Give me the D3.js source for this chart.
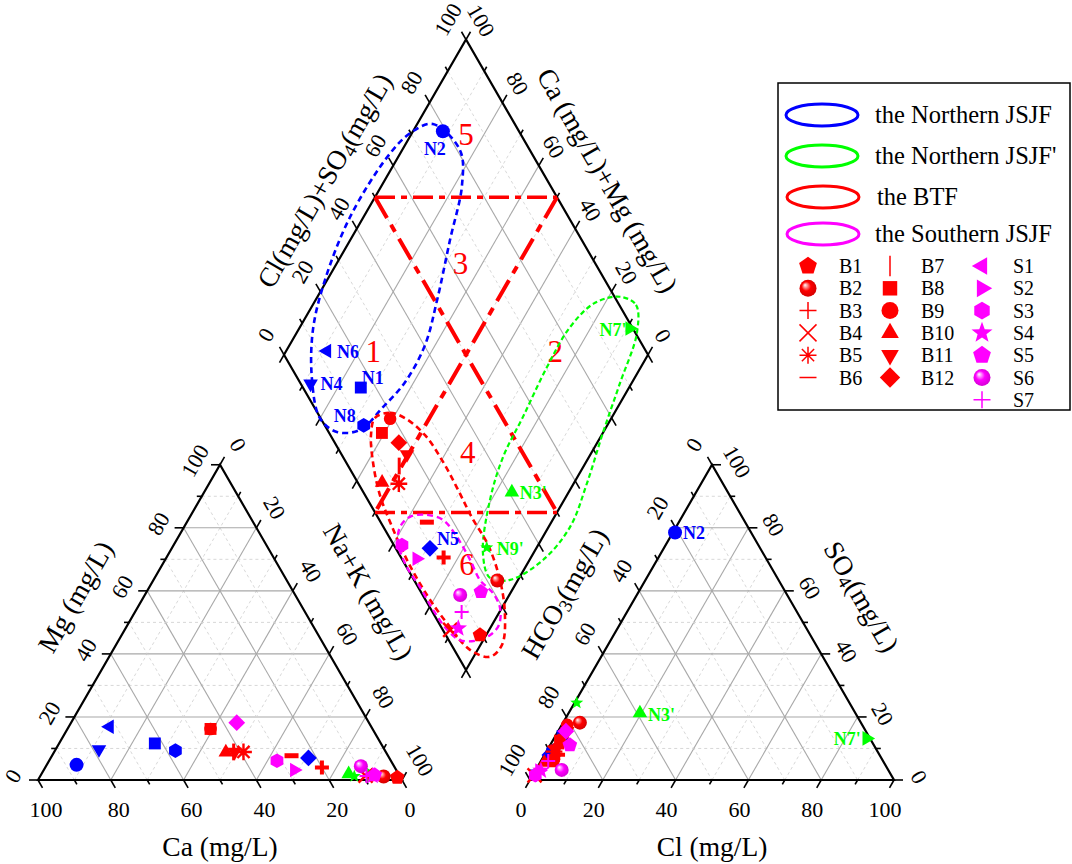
<!DOCTYPE html>
<html>
<head>
<meta charset="utf-8">
<script src="https://cdn.jsdelivr.net/npm/d3@7"></script>
<style>
  body { margin: 0; background: #fff; }
  text { font-family: "Times New Roman", "Liberation Serif", serif; }
</style>
</head>
<body>
<div id="chart"></div>
<script>
// ---- data (percent of meq) ----
const samples = ["N1","N2","N4","N5","N6","N8","N3'","N7'","N9'",
                 "B1","B2","B3","B4","B5","B6","B7","B9","B8","B10","B11","B12",
                 "S2","S3","S4","S5","S6","S7"];
const ca   = [62.1,87.0,78.4,22.2,71.9,57.6,13.7, 7.7,12.5, 0.9, 4.5,20.0, 9.3,39.1,26.5,41.8,44.5,44.5,44.0,41.5,36.3,28.0,31.3, 7.4, 6.7, 9.1, 9.1];
const mg   = [11.6, 4.8, 9.7, 7.0,16.9, 9.3, 1.9, 1.5, 1.2, 0.8, 1.1, 4.0, 1.4, 8.9, 7.7, 8.9,16.2,16.2, 8.8, 8.9,18.2, 3.2, 6.1, 1.3, 1.6, 4.4, 1.3];
const nak  = [26.3, 8.2,11.9,70.8,11.2,33.1,84.4,90.8,86.3,98.3,94.4,76.0,89.3,52.0,65.8,49.3,39.3,39.3,47.2,49.6,45.5,68.8,62.6,91.3,91.7,86.5,89.6];
const hco3 = [84.1,20.9,97.3,90.6,87.6,89.3,59.2, 0.9,74.9,90.6,77.2,88.3,98.0,88.9,87.3,86.0,81.0,85.5,93.3,82.0,82.4,95.9,97.8,95.5,83.5,89.7,92.0];
const so4  = [13.9,78.5, 2.0, 7.9,10.5, 9.0,21.2,13.2,24.5, 6.0,18.2, 8.0, 1.5, 9.0,10.5,12.0,17.5,12.5, 5.5,15.5,15.5, 3.0, 1.5, 3.0,11.1, 3.2, 6.0];
const cl   = [ 2.0, 0.6, 0.7, 1.5, 1.9, 1.7,19.6,85.9, 0.6, 3.4, 4.6, 3.7, 0.5, 2.1, 2.2, 2.0, 1.5, 2.0, 1.2, 2.5, 2.1, 1.1, 0.7, 1.5, 5.4, 7.1, 2.0];

const tickValues = d3.range(0, 101, 10);
const gridValues = d3.range(10, 100, 10);

// group outlines in the diamond, [Cl+SO4, Ca+Mg]
const outlineNorth = [[77.5,95.7],[80.8,84.1],[75.8,78],[63.8,72.6],[50.7,66.6],[40.3,62.8],[28.9,62.4],[18.9,64.5],[9,67.2],[2.3,73.2],[-0.2,80],[3.7,88.3],[11.9,96],[23.1,100.6],[40,103.7],[59.7,103],[69.8,100.5]];
const outlineNorth2 = [[101.5,16.9],[104.6,11.2],[100.4,6.5],[87.8,3.2],[75.2,0],[62.9,-3.6],[51.3,-5.9],[38.6,-3.7],[26.4,2.2],[21.2,8],[23.2,13.9],[33.6,20.4],[44,23.6],[55.8,24.5],[70.3,25.8],[83,25.8],[93.7,22.8]];
const outlineBTF = [[15,65],[19.9,61.7],[23.2,56.7],[26,48.5],[26.7,39.3],[26.4,30.8],[25.8,22.5],[25.9,13.8],[23.6,4.9],[19.4,-2],[13.9,-5.9],[8.7,-4.5],[4.3,2.1],[2.2,12.7],[1.2,22],[1.2,33.1],[2.4,43],[4.1,51.4],[7.4,58.5],[11.2,63.4]];
const outlineSouth = [[8.9,39.7],[13.9,35.3],[17.5,30.1],[18.6,23.6],[18.6,16.4],[18.1,10.4],[19.6,4.8],[19.2,0.5],[16.2,-1.9],[12.2,-1.1],[7.4,1.9],[3.1,6.4],[1.2,11.6],[0.5,18.6],[0.5,25.8],[0.1,32.6],[1.5,38.9],[4.6,40.8]];

// classification lines in the diamond, [Cl+SO4, Ca+Mg]
const classLines = [
  {pts: [[50,100],[100,50]], kind: "h"},
  {pts: [[0,50],[50,0]], kind: "h"},
  {pts: [[50,100],[50,0]], kind: "d"},
  {pts: [[100,50],[0,50]], kind: "d"}
];
const zoneNames = ["1","2","3","4","5","6"];
const zoneAt = [[25,76],[75,26],[63,66],[35,34],[85,85],[17,16.5]];

const groupNames = ["the Northern JSJF","the Northern JSJF'","the BTF","the Southern JSJF"];
const legendCols = [["B1","B2","B3","B4","B5","B6"],
                    ["B7","B8","B9","B10","B11","B12"],
                    ["S1","S2","S3","S4","S5","S6","S7"]];

// ---- styles ----
const blue = "#0000ff", green = "#00ff00", red = "#ff0000", pink = "#ff00ff";
const groupColors = [blue, green, red, pink];
const styles = {
  N1:{c:blue,s:"square"}, N2:{c:blue,s:"circle"}, N4:{c:blue,s:"down"},
  N5:{c:blue,s:"diamond"}, N6:{c:blue,s:"left"}, N8:{c:blue,s:"hexagon"},
  "N3'":{c:green,s:"triangle"}, "N7'":{c:green,s:"right"}, "N9'":{c:green,s:"star",k:0.75},
  B1:{c:red,s:"pentagon"}, B2:{c:red,s:"sphere"}, B3:{c:red,s:"plus",w:4},
  B4:{c:red,s:"x",w:2.5}, B5:{c:red,s:"asterisk",w:2.4,k:1.2}, B6:{c:red,s:"minus",w:5},
  B7:{c:red,s:"bar",w:3}, B8:{c:red,s:"square"}, B9:{c:red,s:"circle",k:0.9},
  B10:{c:red,s:"triangle"}, B11:{c:red,s:"down"}, B12:{c:red,s:"diamond",tc:pink},
  S1:{c:pink,s:"left"}, S2:{c:pink,s:"right"}, S3:{c:pink,s:"hexagon"},
  S4:{c:pink,s:"star"}, S5:{c:pink,s:"pentagon"}, S6:{c:pink,s:"sphere"}, S7:{c:pink,s:"plus",w:2}
};
const diamondLabels = {N2:[-8,24,"middle"], N6:[10,7,"start"], N4:[10,6,"start"], N1:[1,-4,"start"],
                       N8:[-8,-3,"end"], N5:[7,-3,"start"], "N7'":[-3,7,"end"], "N3'":[8,7,"start"], "N9'":[10,7,"start"]};
const anionLabels = {N2:[8,6,"start"], "N3'":[8,8,"start"], "N7'":[-6,7,"end"]};

// ---- geometry ----
const side = 364, hgt = side * Math.sqrt(3) / 2;
const L0 = [38, 780], R0 = [530, 780], DB = [466, 670];
const sx = d3.scaleLinear().domain([0, 100]).range([0, side]);
const sy = d3.scaleLinear().domain([0, 100]).range([0, -hgt]);
const cat = (m, n) => [L0[0] + sx(n) + sx(m) / 2, L0[1] + sy(m)];    // Mg, Na+K
const ani = (s, c) => [R0[0] + sx(c) + sx(s) / 2, R0[1] + sy(s)];    // SO4, Cl
const dia = (a, c) => [DB[0] + (sx(a) - sx(c)) / 2, DB[1] + sy(a) + sy(c)]; // Cl+SO4, Ca+Mg

const svg = d3.select("#chart").append("svg").attr("width", 1072).attr("height", 864);
const defs = svg.append("defs");
[["r", red, "#c80000"], ["p", pink, "#c800c8"]].forEach(([id, c1, c2]) => {
  const gr = defs.append("radialGradient").attr("id", "sph-" + id)
    .attr("cx", "50%").attr("cy", "50%").attr("r", "60%").attr("fx", "32%").attr("fy", "30%");
  gr.append("stop").attr("offset", "0%").attr("stop-color", "#fff");
  gr.append("stop").attr("offset", "45%").attr("stop-color", c1);
  gr.append("stop").attr("offset", "100%").attr("stop-color", c2);
});

// ---- marker shapes ----
function poly(n, r, rot) {
  const p = d3.range(n).map(i => {
    const t = rot + i * 2 * Math.PI / n;
    return [(r * Math.cos(t)).toFixed(2), (r * Math.sin(t)).toFixed(2)];
  });
  return "M" + p.join("L") + "Z";
}
function starPath(r) {
  const p = d3.range(10).map(i => {
    const t = -Math.PI / 2 + i * Math.PI / 5, rr = i % 2 ? r * 0.42 : r;
    return [(rr * Math.cos(t)).toFixed(2), (rr * Math.sin(t)).toFixed(2)];
  });
  return "M" + p.join("L") + "Z";
}
const shapes = {
  circle: r => `M${r},0A${r},${r} 0 1,1 ${-r},0A${r},${r} 0 1,1 ${r},0Z`,
  sphere: r => `M${r},0A${r},${r} 0 1,1 ${-r},0A${r},${r} 0 1,1 ${r},0Z`,
  square: r => { const q = r * 0.85; return `M${-q},${-q}H${q}V${q}H${-q}Z`; },
  triangle: r => poly(3, r * 1.2, -Math.PI / 2),
  down: r => poly(3, r * 1.2, Math.PI / 2),
  left: r => poly(3, r * 1.2, Math.PI),
  right: r => poly(3, r * 1.2, 0),
  diamond: r => poly(4, r * 1.2, -Math.PI / 2),
  pentagon: r => poly(5, r * 1.1, -Math.PI / 2),
  hexagon: r => poly(6, r * 1.05, -Math.PI / 2),
  star: r => starPath(r * 1.3),
  plus: r => `M${-r},0H${r}M0,${-r}V${r}`,
  x: r => `M${-r},${-r}L${r},${r}M${-r},${r}L${r},${-r}`,
  asterisk: r => { const q = r * 0.72; return `M${-r},0H${r}M0,${-r}V${r}M${-q},${-q}L${q},${q}M${-q},${q}L${q},${-q}`; },
  minus: r => `M${-r},0H${r}`,
  bar: r => `M0,${-r * 1.2}V${r * 1.2}`
};
const stroked = new Set(["plus", "x", "asterisk", "minus", "bar"]);

function marker(g, id, x, y, r, sw, col, legend) {
  const st = styles[id];
  const c = col || st.c;
  const p = g.append("path")
    .attr("transform", `translate(${x},${y})`)
    .attr("d", shapes[st.s](r * (legend ? 1 : (st.k || 1))));
  if (stroked.has(st.s)) {
    p.attr("fill", "none").attr("stroke", c).attr("stroke-width", sw || st.w || 2);
  } else if (st.s === "sphere") {
    p.attr("fill", c === red ? "url(#sph-r)" : "url(#sph-p)");
  } else {
    p.attr("fill", c);
  }
}

// ---- axes helpers ----
const gridG = svg.append("g");
const frameG = svg.append("g");
function seg(g, a, b) {
  return g.append("line").attr("x1", a[0]).attr("y1", a[1]).attr("x2", b[0]).attr("y2", b[1]);
}
function grid(a, b, k) {
  const l = seg(gridG, a, b).attr("fill", "none");
  if (k % 20 === 0) l.attr("stroke", "#a8a8a8").attr("stroke-width", 1.1);
  else l.attr("stroke", "#d4d4d4").attr("stroke-width", 0.9).attr("stroke-dasharray", "3,3");
}
function tick(p, dir, k) {
  const len = k % 20 === 0 ? 9 : 5;
  seg(frameG, p, [p[0] + dir[0] * len, p[1] + dir[1] * len])
    .attr("stroke", "#000").attr("stroke-width", 1.6);
}
function tickLabel(p, off, rot, k) {
  if (k % 20 !== 0) return;
  frameG.append("text")
    .attr("transform", `translate(${p[0] + off[0]},${p[1] + off[1]}) rotate(${rot})`)
    .attr("text-anchor", "middle").attr("dominant-baseline", "central")
    .attr("font-size", 22).text(k);
}
function frame(pts) {
  frameG.append("path").attr("d", "M" + pts.join("L") + "Z")
    .attr("fill", "none").attr("stroke", "#000").attr("stroke-width", 2.2)
    .attr("stroke-linejoin", "miter");
}
function title(p, off, rot, parts) {
  const t = frameG.append("text")
    .attr("transform", `translate(${p[0] + off[0]},${p[1] + off[1]}) rotate(${rot})`)
    .attr("text-anchor", "middle").attr("dominant-baseline", "central").attr("font-size", 27.5);
  parts.forEach(([s, sub], i) => {
    if (sub) t.append("tspan").attr("dy", 7).attr("font-size", 19).text(s);
    else t.append("tspan").attr("dy", i ? -7 : 0).text(s);
  });
}

const dUL = [-0.5, -0.866], dUR = [0.5, -0.866], dDL = [-0.5, 0.866], dDR = [0.5, 0.866];

// cation triangle
gridValues.forEach(k => {
  grid(cat(k, 0), cat(k, 100 - k), k);
  grid(cat(0, k), cat(100 - k, k), k);
  grid(cat(0, 100 - k), cat(100 - k, 0), k);
});
frame([cat(0, 0), cat(100, 0), cat(0, 100)]);
tickValues.forEach(k => {
  tick(cat(0, 100 - k), dDR, k); tickLabel(cat(0, 100 - k), [8, 29], 0, k);
  tick(cat(k, 0), [-1, 0], k); tickLabel(cat(k, 0), [-25, -4], -60, k);
  tick(cat(100 - k, k), dUR, k); tickLabel(cat(100 - k, k), [18, -20], 60, k);
});
title(cat(0, 50), [0, 66], 0, [["Ca (mg/L)"]]);
title(cat(50, 0), [-54, -26], -60, [["Mg (mg/L)"]]);
title(cat(50, 50), [58, -31], 60, [["Na+K (mg/L)"]]);

// anion triangle
gridValues.forEach(k => {
  grid(ani(k, 0), ani(k, 100 - k), k);
  grid(ani(0, k), ani(100 - k, k), k);
  grid(ani(100 - k, 0), ani(0, 100 - k), k);
});
frame([ani(0, 0), ani(100, 0), ani(0, 100)]);
tickValues.forEach(k => {
  tick(ani(0, k), dDL, k); tickLabel(ani(0, k), [-9, 29], 0, k);
  tick(ani(100 - k, 0), dUL, k); tickLabel(ani(100 - k, 0), [-18, -20], -60, k);
  tick(ani(k, 100 - k), [1, 0], k); tickLabel(ani(k, 100 - k), [25, -3], 60, k);
});
title(ani(0, 50), [0, 66], 0, [["Cl (mg/L)"]]);
title(ani(50, 0), [-57, -29], -60, [["HCO"], ["3", true], ["(mg/L)"]]);
title(ani(50, 50), [59, -26], 60, [["SO"], ["4", true], ["(mg/L)"]]);

// diamond
gridValues.forEach(k => {
  grid(dia(k, 0), dia(k, 100), k);
  grid(dia(0, k), dia(100, k), k);
});
frame([dia(0, 0), dia(100, 0), dia(100, 100), dia(0, 100)]);
tickValues.forEach(k => {
  tick(dia(k, 100), dUL, k); tickLabel(dia(k, 100), [-18, -20], -60, k);
  tick(dia(100, k), dUR, k); tickLabel(dia(100, k), [15, -19], 60, k);
  tick(dia(0, k), dDL, k);
  tick(dia(k, 0), dDR, k);
});
title(dia(50, 100), [-51, -17], -60, [["Cl(mg/L)+SO"], ["4", true], ["(mg/L)"]]);
title(dia(100, 50), [51, -17], 60, [["Ca (mg/L)+Mg (mg/L)"]]);

// classification lines
const lineD = d3.line().x(d => dia(d[0], d[1])[0]).y(d => dia(d[0], d[1])[1]);
const classG = svg.append("g");
classLines.forEach(l => {
  classG.append("path").attr("d", lineD(l.pts)).attr("fill", "none").attr("stroke", red)
    .attr("stroke-width", l.kind === "h" ? 3.5 : 4)
    .attr("stroke-dasharray", l.kind === "h" ? "20,6,6,6" : "24,8,8,8");
});
zoneNames.forEach((z, i) => {
  const p = dia(zoneAt[i][0], zoneAt[i][1]);
  classG.append("text").attr("x", p[0]).attr("y", p[1]).attr("dominant-baseline", "central")
    .attr("text-anchor", "middle").attr("font-size", 31).attr("fill", red).text(z);
});

// group outlines
const outlineCurve = d3.line().curve(d3.curveCatmullRomClosed.alpha(0.5))
  .x(d => dia(d[0], d[1])[0]).y(d => dia(d[0], d[1])[1]);
[[outlineNorth, blue, 2.6, "6,4"], [outlineNorth2, green, 2.2, "5,3"],
 [outlineBTF, red, 2.6, "6,4"], [outlineSouth, pink, 2.4, "6,4"]].forEach(([pts, c, w, dash]) => {
  svg.append("path").attr("d", outlineCurve(pts)).attr("fill", "none")
    .attr("stroke", c).attr("stroke-width", w).attr("stroke-dasharray", dash);
});

// points
const ptG = svg.append("g");
const labG = svg.append("g").attr("font-weight", "bold").attr("font-size", 18);
samples.forEach((id, i) => {
  const ct = ca[i] + mg[i] + nak[i], at = hco3[i] + so4[i] + cl[i];
  const st = styles[id];
  const pc = cat(mg[i] / ct * 100, nak[i] / ct * 100);
  const pa = ani(so4[i] / at * 100, cl[i] / at * 100);
  const pd = dia((so4[i] + cl[i]) / at * 100, (ca[i] + mg[i]) / ct * 100);
  marker(ptG, id, pc[0], pc[1], 7, null, st.tc);
  marker(ptG, id, pa[0], pa[1], 7, null, st.tc);
  marker(ptG, id, pd[0], pd[1], 7);
  if (diamondLabels[id]) {
    const o = diamondLabels[id];
    labG.append("text").attr("x", pd[0] + o[0]).attr("y", pd[1] + o[1])
      .attr("text-anchor", o[2]).attr("fill", st.c).text(id);
  }
  if (anionLabels[id]) {
    const o = anionLabels[id];
    labG.append("text").attr("x", pa[0] + o[0]).attr("y", pa[1] + o[1])
      .attr("text-anchor", o[2]).attr("fill", st.c).text(id);
  }
});

// legend
const lg = svg.append("g");
lg.append("rect").attr("x", 778).attr("y", 83).attr("width", 292).attr("height", 327)
  .attr("fill", "#fff").attr("stroke", "#000").attr("stroke-width", 1.5);
groupNames.forEach((n, i) => {
  const y = [115, 156, 197, 234][i];
  lg.append("ellipse").attr("cx", 822 + (i > 1 ? 1 : 0)).attr("cy", y).attr("rx", 36).attr("ry", 11)
    .attr("fill", "none").attr("stroke", groupColors[i]).attr("stroke-width", 3);
  lg.append("text").attr("x", i === 2 ? 877 : 875).attr("y", y + 8).attr("font-size", 24.5).text(n);
});
legendCols.forEach((col, j) => {
  const mx = [808, 890, 982][j], tx = [839, 921, 1013][j];
  col.forEach((id, i) => {
    const y = 266 + i * 22.3;
    marker(lg, id, mx, y, 8.5, 1.5, null, true);
    lg.append("text").attr("x", tx).attr("y", y + 7).attr("font-size", 20).text(id);
  });
});
</script>
</body>
</html>
